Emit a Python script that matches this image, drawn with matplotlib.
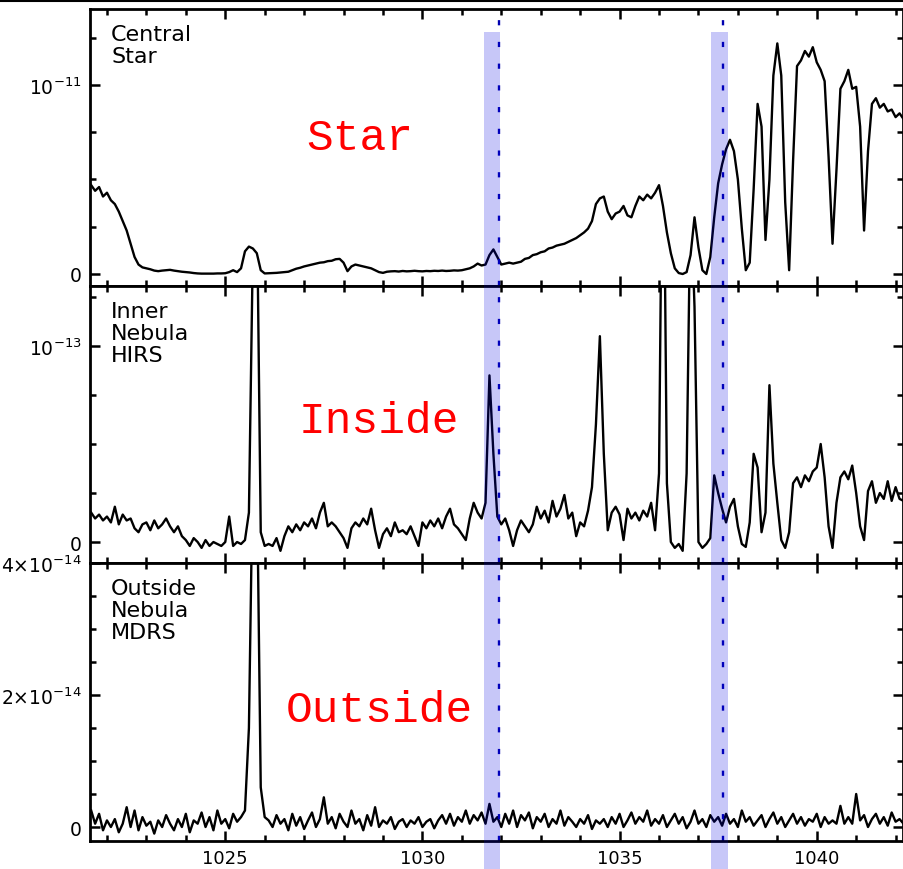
import numpy as np
import matplotlib.pyplot as plt
import matplotlib.transforms as mtransforms
from matplotlib.patches import Rectangle
from matplotlib.lines import Line2D
from matplotlib.ticker import MultipleLocator

wave = np.round(np.arange(1021.6, 1042.25, 0.1), 2)

# Central star, units of 1e-11
star = [0.47, 0.44, 0.46, 0.41, 0.43, 0.39, 0.37, 0.33, 0.28, 0.23,
        0.16, 0.09, 0.05, 0.035, 0.03, 0.025, 0.018, 0.015, 0.018, 0.02,
        0.022, 0.018, 0.015, 0.012, 0.01, 0.008, 0.005, 0.003, 0.002, 0.002,
        0.002, 0.002, 0.003, 0.003, 0.004, 0.01, 0.02, 0.01, 0.03, 0.12,
        0.145, 0.135, 0.11, 0.02, 0.003, 0.004, 0.005, 0.006, 0.008, 0.01,
        0.012, 0.02, 0.028, 0.033, 0.04, 0.045, 0.05, 0.055, 0.06, 0.062,
        0.068, 0.07, 0.078, 0.08, 0.06, 0.015, 0.04, 0.05, 0.045, 0.04,
        0.035, 0.03, 0.02, 0.01, 0.006, 0.012, 0.014, 0.015, 0.013, 0.016,
        0.014, 0.015, 0.017, 0.015, 0.014, 0.016, 0.015, 0.017, 0.016, 0.018,
        0.016, 0.017, 0.019, 0.018, 0.02, 0.025, 0.03, 0.04, 0.055, 0.045,
        0.05, 0.10, 0.13, 0.09, 0.05, 0.055, 0.06, 0.055, 0.06, 0.065,
        0.08, 0.085, 0.10, 0.105, 0.115, 0.12, 0.135, 0.14, 0.15, 0.155,
        0.16, 0.17, 0.18, 0.19, 0.205, 0.22, 0.24, 0.28, 0.37, 0.40,
        0.41, 0.33, 0.29, 0.32, 0.33, 0.36, 0.31, 0.30, 0.36, 0.41,
        0.39, 0.42, 0.40, 0.43, 0.47, 0.36, 0.22, 0.11, 0.03, 0.005,
        0.0, 0.01, 0.10, 0.30, 0.14, 0.02, 0.0, 0.09, 0.30, 0.48,
        0.58, 0.66, 0.71, 0.65, 0.50, 0.24, 0.02, 0.06, 0.45, 0.90,
        0.78, 0.18, 0.50, 1.05, 1.22, 1.05, 0.38, 0.02, 0.60, 1.10,
        1.13, 1.18, 1.15, 1.20, 1.12, 1.08, 1.02, 0.62, 0.16, 0.55,
        0.98, 1.02, 1.08, 0.98, 0.99, 0.78, 0.23, 0.65, 0.90, 0.93,
        0.88, 0.90, 0.86, 0.87, 0.83, 0.85, 0.82]

# Inner nebula (HIRS), units of 1e-13
inner = [0.15, 0.12, 0.14, 0.11, 0.13, 0.10, 0.18, 0.09, 0.14, 0.11,
         0.12, 0.07, 0.05, 0.09, 0.10, 0.06, 0.11, 0.07, 0.09, 0.12,
         0.08, 0.05, 0.08, 0.03, 0.01, -0.02, 0.02, 0.0, -0.03, 0.01,
         -0.02, 0.0, -0.01, -0.02, 0.0, 0.13, -0.02, 0.0, -0.01, 0.01,
         0.15, 1.5, 1.8, 0.05, -0.02, -0.01, -0.02, 0.02, -0.045, 0.03,
         0.08, 0.05, 0.09, 0.06, 0.10, 0.08, 0.12, 0.07, 0.15, 0.20,
         0.08, 0.10, 0.08, 0.05, 0.02, -0.03, 0.07, 0.10, 0.08, 0.12,
         0.09, 0.17, 0.06, -0.03, 0.04, 0.07, 0.03, 0.10, 0.05, 0.06,
         0.04, 0.08, 0.03, -0.02, 0.10, 0.07, 0.11, 0.08, 0.12, 0.07,
         0.13, 0.17, 0.09, 0.07, 0.04, 0.01, 0.12, 0.20, 0.15, 0.12,
         0.20, 0.85, 0.45, 0.13, 0.09, 0.12, 0.06, -0.02, 0.06, 0.11,
         0.08, 0.05, 0.09, 0.18, 0.12, 0.16, 0.10, 0.21, 0.13, 0.17,
         0.24, 0.12, 0.15, 0.03, 0.10, 0.08, 0.16, 0.28, 0.60, 1.05,
         0.45, 0.06, 0.15, 0.18, 0.14, 0.01, 0.17, 0.12, 0.15, 0.11,
         0.16, 0.13, 0.20, 0.06, 0.35, 2.5, 0.30, 0.0, -0.03, -0.01,
         -0.045, 0.35, 1.8, 1.2, 0.0, -0.03, -0.01, 0.02, 0.34, 0.25,
         0.17, 0.10, 0.18, 0.22, 0.08, -0.01, -0.025, 0.10, 0.45, 0.38,
         0.05, 0.15, 0.80, 0.40, 0.20, 0.01, -0.03, 0.05, 0.30, 0.33,
         0.28, 0.34, 0.31, 0.36, 0.38, 0.50, 0.33, 0.08, -0.03, 0.20,
         0.33, 0.36, 0.32, 0.39, 0.25, 0.08, 0.01, 0.26, 0.31, 0.20,
         0.25, 0.22, 0.31, 0.21, 0.28, 0.22, 0.21]

# Outside nebula (MDRS), units of 1e-14
outer = [0.25, 0.05, 0.20, -0.05, 0.10, 0.0, 0.12, -0.08, 0.05, 0.30,
         0.0, 0.25, -0.05, 0.15, 0.02, 0.08, -0.1, 0.10, 0.0, 0.18,
         0.05, -0.05, 0.12, 0.0, 0.20, -0.08, 0.10, 0.05, 0.22, 0.0,
         0.15, -0.05, 0.25, 0.05, 0.12, -0.02, 0.20, 0.08, 0.15, 0.25,
         1.5, 5.5, 5.5, 0.6, 0.15, 0.10, 0.0, 0.18, 0.05, 0.12,
         -0.05, 0.20, 0.02, 0.15, -0.03, 0.10, 0.22, 0.0, 0.12, 0.45,
         0.05, 0.15, -0.02, 0.20, 0.08, 0.0, 0.25, 0.05, 0.12, -0.05,
         0.18, 0.02, 0.30, 0.0, 0.10, 0.05, 0.15, -0.03, 0.08, 0.12,
         0.0, 0.10, 0.05, 0.15, 0.0, 0.08, 0.12, -0.02, 0.10, 0.18,
         0.05, 0.20, 0.02, 0.15, 0.08, 0.25, 0.05, 0.18, 0.10, 0.22,
         0.05, 0.35, 0.08, 0.15, 0.0, 0.20, 0.05, 0.25, 0.0, 0.18,
         0.10, 0.22, -0.02, 0.15, 0.08, 0.20, 0.0, 0.12, 0.05, 0.25,
         0.02, 0.15, 0.08, 0.0, 0.12, 0.05, 0.18, -0.03, 0.10, 0.05,
         0.12, 0.0, 0.15, 0.05, 0.20, 0.0, 0.10, 0.22, 0.05, 0.15,
         0.08, 0.25, 0.02, 0.12, 0.05, 0.18, 0.0, 0.10, 0.20, 0.05,
         0.15, -0.02, 0.08, 0.25, 0.05, 0.12, 0.0, 0.18, 0.08, 0.15,
         0.02, 0.20, 0.05, 0.12, 0.0, 0.25, 0.08, 0.15, 0.02, 0.10,
         0.18, 0.0, 0.12, 0.22, 0.05, 0.15, 0.0, 0.10, 0.20, 0.05,
         0.15, 0.02, 0.12, 0.08, 0.20, 0.0, 0.15, 0.05, 0.10, 0.05,
         0.32, 0.05, 0.15, 0.05, 0.50, 0.10, 0.18, 0.0, 0.12, 0.20,
         0.05, 0.15, 0.02, 0.22, 0.08, 0.12, 0.05]

assert len(star) == len(inner) == len(outer) == len(wave)

# O VI doublet and the shaded windows blueward of it
ovi_lines = [1031.93, 1037.62]
ovi_bands = [(1031.55, 1031.97), (1037.33, 1037.74)]

panel_names = ["Central\nStar", "Inner\nNebula\nHIRS", "Outside\nNebula\nMDRS"]
region_names = ["Star", "Inside", "Outside"]
ylims = [(-0.0635, 1.402), (-0.107, 1.306), (-0.212, 4.0)]
ymajor = [[0, 1], [0, 1], [0, 2, 4]]
ymajor_labels = [["0", r"$10^{-11}$"], ["0", r"$10^{-13}$"],
                 ["0", r"$2{\times}10^{-14}$", r"$4{\times}10^{-14}$"]]
yminor = [0.25, 0.25, 0.5]
region_pos = [(0.266, 0.4946), (0.256, 0.473), (0.241, 0.432)]

W_PX, H_PX = 904, 870
fig = plt.figure(figsize=(W_PX / 100, H_PX / 100), dpi=100)
rows = [(10, 287), (287, 564), (564, 842)]
left = 90 / W_PX
width = (903.5 - 90) / W_PX

axes = []
for k, flux in enumerate([star, inner, outer]):
    top, bot = rows[k]
    ax = fig.add_axes([left, 1 - bot / H_PX, width, (bot - top) / H_PX])
    ax.plot(wave, flux, color="black", lw=1.7)
    for xl in ovi_lines:
        ax.axvline(xl, color="#0000b0", lw=1.7, linestyle=(0, (2.2, 7)))
    ax.set_xlim(1021.57, 1042.2)
    ax.set_ylim(*ylims[k])
    ax.xaxis.set_major_locator(MultipleLocator(5))
    ax.xaxis.set_minor_locator(MultipleLocator(1))
    ax.set_yticks(ymajor[k])
    ax.set_yticklabels(ymajor_labels[k])
    ax.yaxis.set_minor_locator(MultipleLocator(yminor[k]))
    ax.tick_params(which="both", direction="in", top=True, right=True,
                   width=1.8, labelsize=13.5)
    ax.tick_params(which="major", length=7.5)
    ax.tick_params(which="minor", length=4.5)
    ax.tick_params(axis="y", pad=6)
    ax.tick_params(axis="x", pad=5.5, labelsize=13, labelbottom=(k == 2))
    for sp in ax.spines.values():
        sp.set_linewidth(2)
    ax.text(0.026, 0.945, panel_names[k], transform=ax.transAxes,
            ha="left", va="top", fontsize=16, linespacing=1.12)
    ax.text(region_pos[k][0], region_pos[k][1], region_names[k],
            transform=ax.transAxes, ha="left", va="baseline",
            fontsize=32, color="red", family="Liberation Mono")
    axes.append(ax)

# shaded windows run from near the top down through the bottom tick labels
trans = mtransforms.blended_transform_factory(axes[2].transData, fig.transFigure)
for x0, x1 in ovi_bands:
    fig.add_artist(Rectangle((x0, 0), x1 - x0, 1 - 33 / H_PX, transform=trans,
                             facecolor="#0000e0", edgecolor="none", alpha=0.22))

fig.add_artist(Line2D([0, 1], [1 - 1.5 / H_PX] * 2, color="black", lw=1.5,
                      transform=fig.transFigure))

fig.savefig("out.png", dpi=100)
